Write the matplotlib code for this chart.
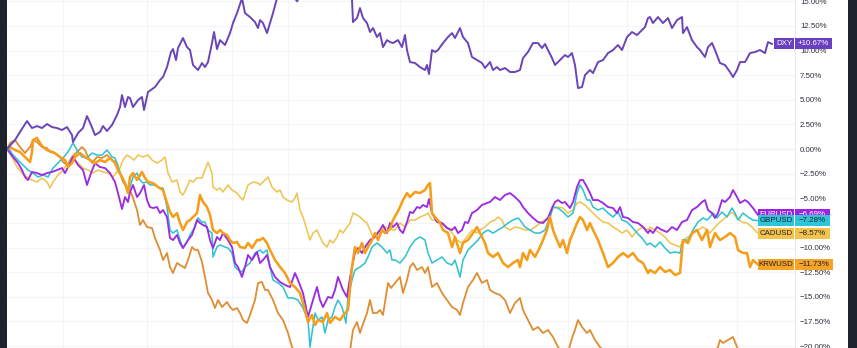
import matplotlib
matplotlib.use('Agg')
import numpy as np
import matplotlib.pyplot as plt
from matplotlib.patches import Rectangle
from matplotlib.transforms import blended_transform_factory

plt.rcParams['font.family'] = ['Liberation Sans', 'DejaVu Sans']

# (bar, % change since start)
dxy = [(7, 0.0), (15, 0.91), (20, 1.73), (27, 2.84), (32, 2.13), (37, 2.33), (42, 2.13), (47, 2.54), (52, 2.23), (57, 2.13),
       (62, 1.93), (67, 2.23), (72, 1.42), (73, 0.71), (78, 1.62), (83, 2.13), (87, 3.35), (91, 2.44), (95, 1.42), (100, 1.73),
       (103, 2.33), (107, 1.83), (112, 2.44), (117, 3.45), (120, 4.26), (122, 5.48), (125, 4.26), (128, 5.28), (130, 5.18), (133, 4.26),
       (138, 4.97), (142, 5.28), (144, 3.96), (148, 5.79), (155, 6.29), (160, 7.00), (163, 7.31), (167, 8.32), (171, 9.85), (173, 10.15),
       (176, 9.03), (178, 10.25), (183, 11.27), (187, 10.35), (190, 10.05), (193, 8.53), (198, 8.02), (202, 8.73), (205, 8.32), (208, 8.83),
       (212, 10.76), (214, 11.88), (217, 10.15), (220, 11.06), (225, 10.56), (230, 11.77), (233, 12.79), (237, 13.80), (242, 15.3), (245, 13.80),
       (250, 13.40), (255, 12.89), (258, 12.28), (260, 13.09), (263, 12.79), (267, 11.77), (270, 12.79), (273, 13.80), (277, 15.3), (282, 16.0),
       (288, 16.5), (293, 15.6), (297, 15.0), (302, 15.8), (310, 16.8), (318, 17.2), (326, 16.5), (334, 17.0), (342, 16.2), (348, 15.6),
       (352, 15.2), (353, 12.89), (357, 13.30), (360, 14.31), (363, 13.30), (367, 12.79), (370, 11.88), (373, 12.28), (377, 11.37), (380, 11.77),
       (383, 10.35), (387, 11.06), (390, 10.86), (393, 10.76), (398, 11.06), (402, 10.35), (405, 11.57), (407, 10.05), (410, 8.83), (415, 8.73),
       (420, 8.32), (425, 8.02), (427, 8.53), (429, 7.61), (432, 10.05), (435, 9.85), (438, 10.05), (443, 10.76), (448, 11.37), (452, 11.77),
       (455, 11.27), (460, 12.28), (463, 11.37), (468, 10.76), (472, 9.34), (477, 9.03), (482, 8.73), (485, 8.22), (490, 8.83), (493, 8.02),
       (497, 8.32), (500, 8.02), (505, 8.22), (510, 7.82), (515, 7.82), (520, 8.02), (523, 9.24), (528, 9.85), (533, 10.76), (538, 10.76),
       (542, 10.25), (545, 10.66), (548, 10.05), (552, 9.24), (555, 8.53), (558, 8.83), (562, 9.24), (565, 9.54), (568, 9.34), (572, 9.74),
       (575, 8.53), (578, 6.19), (582, 6.29), (585, 7.51), (590, 8.02), (593, 7.71), (598, 8.83), (603, 9.03), (608, 9.74), (613, 10.05),
       (618, 10.56), (622, 10.05), (627, 11.37), (632, 11.88), (637, 11.57), (640, 11.88), (645, 12.38), (648, 13.30), (650, 13.40), (653, 12.79),
       (658, 13.40), (663, 12.79), (668, 13.30), (672, 12.28), (677, 13.09), (682, 13.40), (683, 11.77), (687, 12.38), (692, 11.06), (697, 10.35),
       (700, 10.05), (705, 9.34), (708, 10.35), (712, 10.76), (715, 10.05), (720, 8.73), (725, 8.53), (730, 7.82), (733, 7.31), (737, 8.02),
       (740, 8.83), (745, 8.83), (750, 9.74), (755, 9.85), (760, 10.05), (765, 9.74), (768, 10.86), (772, 10.67)]

eurusd = [(7, 0.0), (13, -0.81), (18, -1.42), (22, -2.13), (25, -2.84), (28, -3.15), (32, -2.33), (37, -2.44), (42, -2.64), (47, -2.44),
          (52, -2.33), (57, -2.13), (62, -1.93), (65, -2.44), (70, -1.42), (73, -0.81), (78, -1.62), (83, -2.13), (87, -3.65), (91, -2.44),
          (95, -1.42), (100, -1.83), (105, -1.93), (110, -2.44), (115, -3.35), (118, -4.47), (122, -6.09), (125, -4.87), (128, -5.38), (130, -4.36),
          (133, -3.65), (137, -4.87), (140, -4.47), (144, -3.65), (147, -5.18), (150, -5.89), (153, -5.99), (157, -5.89), (160, -6.50), (163, -6.19),
          (167, -6.90), (170, -9.03), (173, -9.24), (177, -8.73), (180, -9.54), (183, -10.05), (188, -9.24), (192, -8.73), (197, -7.21), (200, -7.51),
          (203, -7.71), (207, -7.92), (210, -9.24), (213, -10.05), (217, -8.93), (220, -9.24), (223, -8.53), (228, -9.24), (232, -9.95), (235, -11.57),
          (238, -11.98), (242, -12.99), (245, -11.98), (248, -10.76), (252, -11.27), (257, -10.45), (260, -11.57), (263, -11.27), (267, -10.76), (270, -11.98),
          (275, -12.99), (280, -13.50), (285, -13.80), (290, -14.01), (295, -12.59), (298, -13.30), (303, -14.62), (308, -17.05), (313, -15.33), (317, -14.01),
          (320, -15.33), (323, -16.04), (328, -15.02), (332, -15.12), (335, -14.31), (338, -12.99), (343, -14.31), (347, -15.02), (350, -13.09), (355, -10.45),
          (358, -10.05), (362, -10.56), (365, -9.95), (370, -9.24), (375, -8.93), (380, -8.22), (383, -7.71), (387, -8.53), (390, -7.51), (393, -7.92),
          (397, -7.51), (400, -8.22), (403, -8.53), (407, -7.41), (410, -6.39), (413, -6.50), (417, -5.89), (420, -5.99), (423, -5.68), (427, -5.89),
          (429, -5.08), (432, -6.50), (437, -7.41), (442, -7.51), (447, -8.02), (452, -8.22), (455, -7.92), (458, -8.53), (462, -8.22), (465, -7.41),
          (468, -7.51), (472, -6.50), (477, -6.19), (482, -5.68), (487, -5.48), (490, -5.38), (495, -4.87), (500, -5.18), (505, -4.67), (510, -4.47),
          (515, -4.87), (520, -5.38), (523, -5.89), (528, -6.50), (533, -7.00), (538, -7.41), (543, -7.51), (548, -7.00), (552, -5.99), (555, -5.38),
          (558, -5.18), (562, -5.48), (565, -5.38), (570, -5.99), (573, -5.38), (577, -3.86), (580, -3.15), (583, -3.15), (587, -3.86), (590, -4.47),
          (593, -5.18), (598, -5.18), (603, -5.48), (608, -5.89), (613, -5.99), (617, -6.50), (620, -5.89), (623, -6.90), (628, -7.00), (633, -7.41),
          (638, -7.51), (643, -7.92), (648, -8.53), (650, -8.22), (653, -8.53), (657, -7.92), (662, -8.22), (667, -8.42), (672, -7.92), (677, -8.22),
          (682, -7.41), (687, -7.21), (692, -6.19), (697, -5.89), (702, -5.38), (705, -5.18), (708, -6.19), (712, -6.50), (715, -7.00), (718, -6.50),
          (722, -5.18), (725, -5.38), (730, -4.87), (733, -4.16), (737, -4.87), (740, -5.48), (745, -5.18), (748, -5.38), (753, -5.99), (758, -6.69)]

gbpusd = [(7, 0.0), (8, 0.2), (13, -0.61), (18, -1.12), (23, -1.62), (28, -2.13), (33, -2.44), (38, -2.84), (43, -2.64), (48, -2.84),
          (53, -1.93), (58, -1.42), (63, -0.91), (68, -0.30), (73, 0.61), (77, -0.10), (82, -0.81), (87, -0.91), (92, -0.41), (97, -0.61),
          (102, -0.61), (107, -0.10), (112, -0.81), (115, -0.91), (118, -1.83), (122, -2.84), (125, -3.65), (128, -4.16), (130, -3.86), (133, -2.84),
          (137, -2.44), (140, -3.15), (143, -3.45), (147, -3.35), (150, -3.65), (155, -3.65), (160, -3.96), (163, -3.96), (167, -5.89), (170, -8.22),
          (173, -8.53), (177, -8.22), (180, -9.24), (183, -10.05), (187, -9.44), (190, -8.73), (195, -7.92), (198, -7.00), (202, -7.41), (205, -7.41),
          (208, -8.22), (212, -8.53), (213, -10.96), (217, -9.95), (220, -9.74), (225, -9.95), (228, -10.05), (232, -10.56), (235, -11.98), (238, -12.28),
          (242, -12.48), (245, -11.98), (250, -11.57), (255, -10.56), (260, -10.25), (263, -10.56), (267, -10.25), (270, -11.98), (273, -13.30), (278, -13.60),
          (283, -14.01), (288, -15.12), (293, -15.12), (298, -15.33), (303, -16.14), (308, -17.36), (310, -20.10), (312, -18.68), (315, -16.65), (318, -17.36),
          (322, -17.05), (325, -18.68), (328, -17.36), (332, -17.05), (335, -16.04), (338, -15.33), (342, -16.04), (346, -17.66), (348, -15.02), (352, -13.30),
          (355, -12.28), (360, -11.98), (365, -11.57), (368, -10.96), (372, -9.95), (377, -9.54), (382, -9.95), (387, -10.56), (390, -10.25), (392, -11.27),
          (395, -11.27), (400, -11.57), (405, -10.96), (410, -9.95), (415, -9.24), (420, -8.93), (425, -9.24), (428, -10.56), (432, -11.57), (437, -11.27),
          (442, -10.96), (447, -11.57), (452, -11.77), (455, -11.27), (460, -12.99), (463, -11.27), (468, -10.25), (473, -9.74), (478, -9.24), (483, -8.53),
          (488, -8.22), (493, -8.53), (498, -8.22), (503, -7.92), (508, -7.51), (513, -7.21), (518, -7.00), (520, -7.21), (525, -7.92), (530, -8.22),
          (535, -8.53), (540, -8.53), (545, -8.22), (550, -6.90), (553, -5.89), (558, -5.99), (563, -6.39), (568, -6.90), (573, -6.50), (577, -4.47),
          (580, -3.65), (583, -4.16), (587, -5.18), (590, -5.18), (593, -5.89), (598, -6.19), (603, -5.99), (608, -6.50), (613, -6.90), (618, -6.39),
          (622, -7.21), (627, -7.41), (632, -7.92), (637, -8.53), (642, -9.03), (647, -9.74), (650, -9.54), (655, -9.95), (660, -9.44), (665, -10.05),
          (670, -10.56), (675, -10.45), (680, -10.56), (683, -9.24), (688, -9.24), (693, -8.22), (698, -7.41), (703, -7.00), (707, -7.21), (710, -6.90),
          (713, -6.50), (717, -7.00), (722, -6.39), (727, -6.90), (732, -5.99), (735, -6.50), (738, -7.21), (743, -6.50), (748, -6.90), (753, -7.21),
          (758, -7.28)]

cadusd = [(7, 0.0), (12, -0.81), (17, -1.83), (22, -2.44), (27, -2.84), (32, -3.15), (37, -3.35), (42, -2.94), (47, -3.35), (50, -3.96),
          (53, -3.35), (58, -2.64), (63, -2.13), (68, -1.42), (73, -0.91), (78, -1.42), (83, -1.93), (88, -2.13), (93, -2.44), (98, -2.13),
          (103, -2.33), (108, -2.44), (113, -2.84), (117, -2.33), (120, -1.93), (123, -1.12), (127, -0.61), (130, -0.81), (134, -1.12), (138, -0.61),
          (143, -0.81), (148, -0.61), (152, -1.12), (157, -1.42), (162, -1.12), (165, -0.81), (168, -2.44), (172, -3.35), (177, -3.15), (180, -4.36),
          (183, -4.67), (187, -3.86), (190, -3.15), (193, -3.35), (197, -2.94), (202, -2.94), (205, -2.13), (208, -1.32), (212, -2.44), (213, -3.86),
          (217, -4.16), (220, -3.96), (223, -4.36), (228, -3.65), (232, -4.16), (237, -4.47), (240, -4.87), (243, -5.18), (248, -3.65), (253, -3.35),
          (258, -3.45), (260, -3.65), (265, -3.15), (268, -2.84), (272, -3.86), (277, -4.36), (280, -4.16), (283, -4.87), (287, -5.18), (292, -5.38),
          (295, -4.97), (297, -4.47), (300, -6.19), (303, -6.90), (307, -8.22), (310, -9.24), (313, -8.53), (317, -8.22), (320, -8.93), (323, -9.54),
          (327, -9.95), (330, -9.24), (333, -9.54), (337, -8.93), (340, -8.22), (343, -8.53), (347, -7.92), (350, -7.51), (353, -6.50), (357, -6.70),
          (360, -6.90), (363, -7.21), (367, -7.51), (370, -8.22), (373, -8.93), (377, -8.53), (380, -8.22), (385, -7.92), (390, -8.12), (395, -8.22),
          (400, -7.51), (405, -7.92), (410, -7.21), (415, -7.21), (420, -6.90), (425, -6.70), (428, -6.50), (432, -7.21), (437, -7.21), (442, -7.51),
          (447, -7.92), (452, -8.53), (457, -9.24), (462, -9.54), (467, -8.93), (472, -8.22), (477, -8.53), (480, -8.22), (485, -7.92), (490, -7.41),
          (495, -7.21), (498, -6.90), (502, -7.21), (505, -7.92), (510, -8.22), (515, -7.92), (520, -8.02), (525, -8.22), (530, -8.22), (535, -7.92),
          (540, -7.51), (545, -7.21), (550, -6.90), (553, -5.99), (558, -5.89), (563, -5.99), (568, -6.50), (573, -6.19), (577, -5.48), (580, -5.38),
          (585, -5.68), (588, -5.99), (593, -6.50), (598, -7.00), (603, -7.41), (608, -7.51), (613, -7.92), (618, -8.22), (622, -8.53), (627, -8.22),
          (632, -8.93), (635, -8.53), (638, -8.22), (643, -7.92), (648, -8.22), (650, -7.92), (655, -8.22), (660, -8.53), (665, -8.93), (670, -9.54),
          (675, -9.74), (680, -9.95), (683, -9.24), (688, -8.93), (693, -8.53), (698, -8.22), (703, -7.92), (707, -8.22), (710, -8.53), (715, -7.92),
          (720, -7.41), (725, -7.00), (730, -6.50), (733, -6.50), (737, -7.00), (742, -7.41), (747, -7.51), (752, -7.92), (758, -8.57)]

krwusd = [(7, 0.0), (10, 0.20), (15, -0.10), (20, -0.30), (25, -0.81), (30, -1.32), (32, -0.30), (33, 0.91), (37, 1.12), (40, 0.61),
          (43, 0.20), (47, -0.10), (52, -0.30), (55, -0.41), (60, -0.81), (65, -1.12), (68, -1.83), (72, -1.42), (75, -0.81), (80, -0.41),
          (85, -0.81), (90, -1.12), (95, -1.42), (100, -1.12), (105, -1.32), (110, -0.91), (115, -1.42), (118, -2.13), (122, -2.84), (125, -3.45),
          (128, -4.47), (130, -2.84), (133, -2.44), (137, -3.15), (142, -2.33), (145, -2.94), (148, -3.35), (153, -3.45), (158, -3.86), (163, -4.16),
          (167, -5.48), (170, -6.39), (173, -6.90), (177, -6.50), (180, -7.51), (183, -8.22), (187, -7.41), (190, -7.21), (193, -6.90), (197, -6.50),
          (200, -4.67), (203, -5.38), (207, -5.89), (210, -6.70), (213, -8.22), (217, -8.53), (220, -8.22), (223, -8.53), (227, -8.73), (230, -9.24),
          (233, -9.54), (237, -9.44), (240, -9.95), (245, -10.05), (248, -9.54), (252, -10.05), (257, -9.24), (260, -9.24), (263, -9.03), (267, -9.54),
          (270, -10.25), (275, -11.27), (280, -11.98), (285, -12.59), (290, -13.60), (295, -14.01), (300, -14.62), (305, -16.34), (308, -17.56), (312, -16.85),
          (315, -17.86), (318, -17.36), (323, -17.56), (327, -16.65), (330, -17.66), (335, -17.05), (340, -17.36), (345, -16.65), (348, -16.34), (352, -11.98),
          (355, -9.95), (358, -10.56), (362, -9.54), (365, -10.56), (368, -9.95), (372, -9.24), (375, -8.53), (378, -9.24), (382, -8.22), (385, -8.53),
          (390, -8.12), (393, -7.21), (397, -6.50), (400, -5.89), (403, -5.18), (407, -4.47), (410, -4.87), (415, -4.36), (420, -4.47), (425, -4.16),
          (428, -3.65), (430, -3.45), (432, -6.50), (435, -6.90), (440, -7.51), (443, -8.22), (448, -8.53), (452, -9.95), (455, -8.93), (460, -10.56),
          (463, -9.54), (468, -9.24), (473, -8.53), (477, -7.92), (480, -8.53), (485, -9.54), (488, -10.56), (493, -10.96), (498, -10.56), (503, -11.57),
          (508, -11.98), (513, -11.57), (518, -11.27), (520, -11.98), (523, -10.56), (527, -11.27), (530, -10.25), (535, -10.96), (540, -9.95), (543, -9.24),
          (547, -8.22), (550, -6.90), (553, -8.22), (557, -9.24), (560, -9.95), (563, -9.24), (567, -10.56), (570, -9.24), (573, -8.53), (577, -7.51),
          (580, -6.90), (583, -7.21), (587, -8.22), (590, -7.51), (593, -8.22), (598, -9.24), (603, -10.56), (608, -11.98), (613, -11.57), (618, -10.96),
          (623, -10.56), (628, -10.96), (633, -10.56), (638, -11.27), (643, -11.57), (648, -12.59), (650, -12.28), (655, -12.59), (660, -11.98), (665, -12.48),
          (670, -12.28), (675, -12.79), (680, -12.59), (683, -9.24), (688, -9.54), (692, -8.53), (697, -8.22), (702, -9.24), (707, -8.22), (710, -9.95),
          (715, -8.53), (720, -9.24), (725, -8.93), (730, -8.53), (735, -8.93), (738, -10.25), (743, -10.56), (747, -10.56), (750, -11.98), (753, -11.27),
          (758, -11.73)]

# sixth series (no label on screen, runs below the visible range)
jpyusd = [(7, 0.0), (10, 0.61), (15, 0.91), (20, 0.20), (25, -0.41), (30, 0.20), (33, 0.91), (37, 0.71), (42, 0.20), (47, 0.10),
          (50, -0.30), (55, -0.41), (60, -0.81), (63, -1.32), (67, -1.62), (72, -0.81), (77, -0.30), (82, 0.20), (85, -0.10), (88, -0.81),
          (92, -1.42), (97, -0.81), (102, -0.91), (107, -0.61), (112, -1.12), (117, -1.42), (120, -2.44), (123, -3.35), (127, -3.86), (130, -4.16),
          (133, -4.97), (137, -6.19), (140, -7.71), (143, -7.21), (147, -7.92), (152, -8.02), (155, -9.03), (160, -10.25), (163, -11.27), (167, -10.56),
          (170, -11.98), (173, -12.59), (177, -11.57), (180, -11.77), (185, -12.08), (188, -11.27), (192, -9.95), (195, -10.25), (198, -10.25), (202, -11.47),
          (205, -12.99), (208, -14.62), (212, -15.33), (215, -16.14), (218, -15.33), (222, -16.04), (227, -15.53), (230, -16.04), (233, -16.34), (237, -16.14),
          (240, -16.65), (243, -17.36), (247, -17.66), (250, -16.85), (255, -15.33), (258, -13.60), (262, -13.50), (265, -14.31), (268, -14.31), (273, -15.33),
          (278, -16.65), (283, -17.36), (288, -18.68), (292, -20.10), (298, -21.0), (305, -21.8), (312, -22.6), (320, -22.0), (328, -22.8), (336, -21.9),
          (344, -21.2), (350, -20.5), (353, -18.37), (357, -17.56), (360, -18.68), (363, -17.76), (367, -16.65), (370, -15.33), (373, -16.65), (377, -16.65),
          (380, -16.34), (383, -16.85), (388, -13.60), (391, -14.11), (395, -13.60), (400, -12.99), (403, -14.62), (407, -13.30), (410, -11.98), (413, -11.57),
          (417, -12.28), (422, -11.98), (425, -12.59), (428, -11.98), (432, -14.01), (437, -13.60), (442, -14.62), (447, -15.33), (452, -16.04), (457, -16.34),
          (460, -16.85), (463, -15.63), (468, -14.01), (473, -13.30), (477, -12.59), (482, -13.60), (487, -13.30), (490, -14.31), (495, -14.62), (500, -14.82),
          (505, -15.33), (510, -16.65), (515, -15.63), (520, -15.12), (523, -16.34), (528, -17.36), (533, -18.37), (538, -18.07), (543, -18.68), (548, -18.37),
          (553, -19.08), (558, -20.10), (563, -20.8), (568, -20.6), (573, -18.88), (575, -18.37), (578, -17.36), (582, -18.07), (587, -18.68), (590, -18.37),
          (595, -19.39), (600, -20.10), (608, -21.0), (618, -22.2), (630, -23.0), (642, -22.4), (655, -23.3), (668, -22.6), (680, -21.8), (692, -22.5),
          (704, -21.6), (714, -20.7), (718, -20.10), (720, -19.39), (723, -19.69), (728, -19.39), (733, -19.08), (737, -20.10), (743, -21.0), (750, -21.6),
          (758, -21.9)]

vgrid = [63, 147, 232, 288, 400, 483, 568, 627, 737]

W, H = 857.0, 348.0
fig = plt.figure(figsize=(8.57, 3.48), dpi=100)
fig.patch.set_facecolor('white')
ax = fig.add_axes([7 / W, 0, (795 - 7) / W, 1])
ax.set_xlim(7, 795)
ax.set_ylim(-20.2, 15.13)

ax.set_yticks(np.arange(-20, 15.1, 2.5))
ax.set_xticks(vgrid)
ax.set_xticklabels([])
ax.grid(True, color='#f4f5f8', lw=0.8)
ax.axhline(0, color='#c3c6cd', lw=0.8, zorder=1)
ax.yaxis.tick_right()
ax.tick_params(axis='both', length=0)
ax.tick_params(axis='y', pad=3.6, labelsize=5.7, labelcolor='#2f333e')
ax.yaxis.set_major_formatter(plt.FuncFormatter(lambda v, p: f'{v:.2f}%'.replace('-', '\u2212')))
for s in ['top', 'left', 'bottom']:
    ax.spines[s].set_visible(False)
ax.spines['right'].set_color('#e4e6eb')
ax.spines['right'].set_linewidth(0.6)

series = [
    ('JPYUSD', jpyusd, '#df8d33', 1.3),
    ('CADUSD', cadusd, '#eec553', 1.15),
    ('GBPUSD', gbpusd, '#33c2d2', 1.15),
    ('EURUSD', eurusd, '#9b2ce0', 1.35),
    ('KRWUSD', krwusd, '#f59e1b', 1.85),
    ('DXY', dxy, '#6a45b8', 1.4),
]
for name, pts, c, lw in series:
    t, v = zip(*pts)
    ax.plot(t, v, color=c, lw=lw, solid_joinstyle='round')

# price-scale labels (name box + value box)
trans = blended_transform_factory(fig.transFigure, ax.transData)
labels = [
    ('EURUSD', eurusd, '#9c22e8', 'white', 758, 830),
    ('GBPUSD', gbpusd, '#2ec5d8', '#1f2330', 758, 830),
    ('CADUSD', cadusd, '#f4c34c', '#1f2330', 758, 830),
    ('KRWUSD', krwusd, '#f7a326', '#1f2330', 758, 833),
    ('DXY', dxy, '#6a3fc0', 'white', 774, 832),
]
h = 1.12
for i, (name, pts, c, tc, x0, x1) in enumerate(labels):
    y = pts[-1][1]
    z = 5 + 2 * i
    fig.add_artist(Rectangle((x0 / W, y - h / 2), (794 - x0) / W, h, transform=trans,
                             facecolor=c, edgecolor='none', zorder=z))
    fig.add_artist(Rectangle((795 / W, y - h / 2), (x1 - 795) / W, h, transform=trans,
                             facecolor=c, edgecolor='none', zorder=z))
    val = f'{y:+.2f}%'.replace('-', '\u2212')
    fig.text((x0 + 794) / 2 / W, y, name, transform=trans, ha='center', va='center',
             fontsize=5.7, color=tc, zorder=z + 1)
    fig.text((795 + x1) / 2 / W, y, val, transform=trans, ha='center', va='center',
             fontsize=5.7, color=tc, zorder=z + 1)

# dark frame bands at the sides
fig.add_artist(Rectangle((0, 0), 7 / W, 1, transform=fig.transFigure, facecolor='#1e222d',
                         edgecolor='none', zorder=20))
fig.add_artist(Rectangle((848 / W, 0), 9 / W, 1, transform=fig.transFigure, facecolor='#1e222d',
                         edgecolor='none', zorder=20))

fig.savefig('out.png', dpi=100)
